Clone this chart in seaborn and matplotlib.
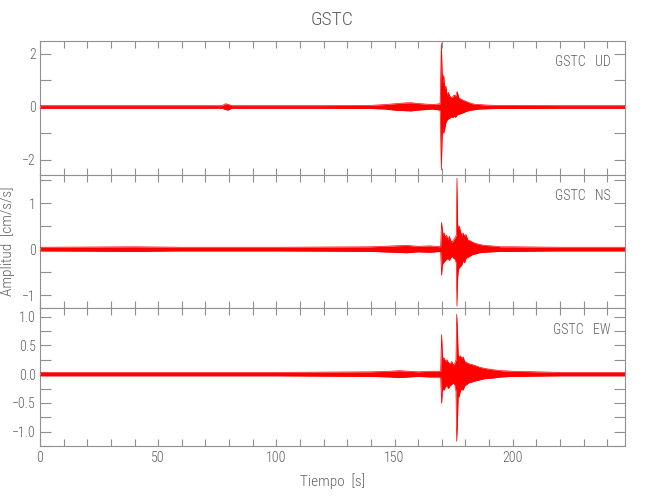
import matplotlib
matplotlib.use("Agg")
import matplotlib.pyplot as plt
import seaborn as sns
import pandas as pd
from matplotlib.ticker import MultipleLocator, FixedLocator, FuncFormatter

# ---- data (envelope of each trace) ----
t_ud = [0, 40, 77, 78.5, 79.5, 81, 120, 140, 146, 150, 154, 157, 160, 163, 166, 169.3,
        169.8, 170.1, 170.4, 170.8, 171.2, 171.7, 172.2, 172.8, 173.4, 174.0, 174.6, 175.2,
        175.8, 176.5, 177.2, 178.0, 179.0, 180.0, 181.0, 182.5, 184.0, 186.0, 189.0, 193.0,
        200.0, 220.0, 248.0]
up_ud = [0.05, 0.05, 0.05, 0.12, 0.10, 0.05, 0.05, 0.06, 0.09, 0.12, 0.15, 0.16, 0.13, 0.11,
         0.09, 0.12, 2.40, 1.36, 0.90, 1.20, 0.70, 0.79, 0.45, 0.55, 0.40, 0.35, 0.38, 0.45,
         0.40, 0.58, 0.35, 0.30, 0.25, 0.22, 0.18, 0.13, 0.10, 0.09, 0.07, 0.06, 0.06, 0.05, 0.05]
lo_ud = [-0.05, -0.05, -0.05, -0.10, -0.12, -0.05, -0.05, -0.06, -0.08, -0.12, -0.14, -0.15,
         -0.12, -0.10, -0.08, -0.12, -2.38, -1.22, -0.80, -1.00, -0.84, -0.60, -0.50, -0.45,
         -0.42, -0.38, -0.40, -0.35, -0.39, -0.30, -0.28, -0.25, -0.22, -0.18, -0.15, -0.12,
         -0.10, -0.08, -0.07, -0.06, -0.06, -0.05, -0.05]

t_ns = [0, 40, 60, 100, 140, 150, 155, 160, 165, 169.5, 169.9, 170.2, 170.6, 171.0, 171.5,
        172, 172.6, 173.2, 173.8, 174.4, 175, 175.6, 176.1, 176.4, 176.7, 177.0, 177.4, 177.9,
        178.4, 179, 179.6, 180.2, 181, 182, 183, 184.5, 186, 188, 191, 195, 200, 220, 248]
up_ns = [0.04, 0.05, 0.04, 0.04, 0.05, 0.07, 0.08, 0.06, 0.07, 0.05, 0.58, 0.42, 0.30, 0.35,
         0.25, 0.30, 0.20, 0.28, 0.18, 0.15, 0.20, 0.25, 0.30, 1.54, 0.55, 0.42, 0.50, 0.38,
         0.30, 0.35, 0.28, 0.32, 0.20, 0.18, 0.15, 0.12, 0.10, 0.08, 0.07, 0.05, 0.05, 0.04, 0.04]
lo_ns = [-0.04, -0.05, -0.04, -0.04, -0.05, -0.07, -0.08, -0.06, -0.07, -0.05, -0.57, -0.35,
         -0.30, -0.28, -0.25, -0.22, -0.20, -0.25, -0.18, -0.16, -0.20, -0.22, -0.30, -1.24,
         -0.62, -0.45, -0.40, -0.38, -0.35, -0.25, -0.30, -0.20, -0.18, -0.15, -0.12, -0.10,
         -0.08, -0.07, -0.06, -0.05, -0.05, -0.04, -0.04]

t_ew = [0, 40, 100, 140, 148, 152, 156, 160, 165, 169.5, 169.9, 170.2, 170.6, 171.0, 171.5,
        172.1, 172.8, 173.5, 174.2, 174.9, 175.6, 176.0, 176.3, 176.6, 176.9, 177.3, 177.8,
        178.4, 179, 179.7, 180.5, 181.5, 182.5, 184, 186, 188, 191, 195, 200, 220, 248]
up_ew = [0.03, 0.03, 0.03, 0.04, 0.05, 0.06, 0.05, 0.04, 0.05, 0.05, 0.69, 0.35, 0.25, 0.28,
         0.22, 0.25, 0.20, 0.18, 0.22, 0.15, 0.20, 0.25, 1.04, 0.79, 0.35, 0.30, 0.32, 0.28,
         0.30, 0.22, 0.20, 0.18, 0.17, 0.15, 0.12, 0.10, 0.08, 0.06, 0.05, 0.03, 0.03]
lo_ew = [-0.03, -0.03, -0.03, -0.04, -0.05, -0.06, -0.05, -0.04, -0.05, -0.05, -0.51, -0.30,
         -0.25, -0.28, -0.22, -0.20, -0.25, -0.20, -0.18, -0.15, -0.20, -0.30, -1.17, -0.86,
         -0.40, -0.39, -0.30, -0.25, -0.28, -0.20, -0.18, -0.15, -0.14, -0.12, -0.10, -0.08,
         -0.07, -0.05, -0.04, -0.03, -0.03]

components = ["UD", "NS", "EW"]
station = "GSTC"
x_ticks = [0, 50, 100, 150, 200]

# ---- style ----
sns.set_style("ticks")
plt.rcParams["font.family"] = ["Roboto Condensed", "DejaVu Sans"]
plt.rcParams["font.stretch"] = "condensed"
plt.rcParams["font.weight"] = "light"
plt.rcParams["axes.labelweight"] = "light"
TXT = "#5f5f5f"
SP = "#909090"

fig = plt.figure(figsize=(6.5, 5.0), dpi=100)
L, R = 40 / 650, 625 / 650
rows = [(41, 175), (175, 308), (308, 446)]
ylims = [(-2.57, 2.49), (-1.28, 1.61), (-1.25, 1.15)]
ymajor = [2, 1, 0.5]
yminor = [1, 0.5, 0.25]
series = [(t_ud, up_ud, lo_ud), (t_ns, up_ns, lo_ns), (t_ew, up_ew, lo_ew)]

def fmt_int(v, p):
    return f"{v:g}".replace("-", "\u2212")

def fmt_1(v, p):
    return f"{v:.1f}".replace("-", "\u2212")

axes = []
for i, ((top, bot), comp) in enumerate(zip(rows, components)):
    ax = fig.add_axes([L, 1 - bot / 500, R - L, (bot - top) / 500])
    axes.append(ax)
    t, up, lo = series[i]
    df = pd.DataFrame({"t": t, "up": up, "lo": lo})
    ax.fill_between(df["t"], df["lo"], df["up"], color="#ff0000", linewidth=0, zorder=2)
    sns.lineplot(data=df, x="t", y="up", ax=ax, color="#ff0000", linewidth=0.5, zorder=3)
    sns.lineplot(data=df, x="t", y="lo", ax=ax, color="#ff0000", linewidth=0.5, zorder=3)
    ax.set_xlim(0, 247.5)
    ax.set_ylim(*ylims[i])
    ax.xaxis.set_major_locator(FixedLocator(x_ticks))
    ax.xaxis.set_minor_locator(MultipleLocator(10))
    ax.yaxis.set_major_locator(MultipleLocator(ymajor[i]))
    ax.yaxis.set_minor_locator(MultipleLocator(yminor[i]))
    ax.tick_params(axis="both", which="both", direction="in", top=True, right=True,
                   color=SP, labelcolor=TXT, labelsize=10, width=0.8)
    ax.tick_params(axis="x", which="both", length=5)
    ax.tick_params(axis="y", which="both", length=8, pad=3)
    ax.set_xlabel("")
    ax.set_ylabel("")
    for s in ax.spines.values():
        s.set_color(SP)
        s.set_linewidth(0.8)
    if i < 2:
        ax.tick_params(axis="x", labelbottom=False)
    ax.yaxis.set_major_formatter(FuncFormatter(fmt_1 if i == 2 else fmt_int))
    ax.text(0.975, 0.84, f"{station}   {comp}", transform=ax.transAxes, ha="right",
            va="center", color=TXT, fontsize=10, fontweight="light")

axes[2].set_xlabel("Tiempo  [s]", color=TXT, fontsize=11, labelpad=6, fontweight="light")
axes[1].set_ylabel("Amplitud  [cm/s/s]", color=TXT, fontsize=11, fontweight="light")
axes[1].yaxis.set_label_coords(-0.043, 0.5)
fig.text((40 + 625) / 2 / 650, 1 - 20 / 500, station, ha="center", va="center",
         color=TXT, fontsize=14, fontweight="light")

fig.savefig("out.png", dpi=100)
